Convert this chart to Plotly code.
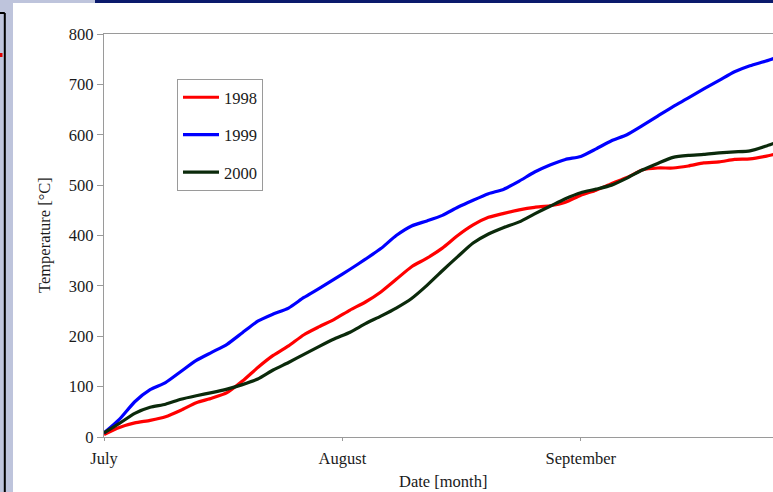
import plotly.graph_objects as go

# Days since July 1
days = [0, 2, 4, 6, 8, 10, 12, 14, 16, 18, 20, 22, 24, 26, 28, 30, 32, 34, 36, 38, 40, 42, 44,
        46, 48, 50, 52, 54, 56, 58, 60, 62, 64, 66, 68, 70, 72, 74, 76, 78, 80, 82, 84, 86, 88]

t1998 = [5, 19, 28, 33, 40, 53, 68, 77, 88, 111, 138, 162, 181, 203, 219, 234, 252, 268, 288, 313,
         338, 355, 375, 400, 421, 436, 444, 451, 456, 459, 466, 480, 490, 503, 515, 530, 534, 534,
         538, 544, 546, 551, 552, 557, 564]
t1999 = [8, 35, 70, 94, 108, 130, 152, 168, 184, 207, 230, 244, 256, 277, 295, 314, 333, 353, 374,
         400, 419, 429, 440, 456, 470, 483, 492, 508, 526, 540, 551, 557, 572, 588, 600, 618, 637,
         656, 673, 691, 708, 725, 737, 746, 756]
t2000 = [8, 27, 47, 59, 65, 75, 82, 88, 95, 104, 115, 133, 148, 164, 180, 195, 208, 225, 240, 256,
         275, 301, 330, 358, 385, 403, 416, 427, 443, 458, 473, 485, 492, 500, 514, 530, 543, 555,
         559, 561, 564, 566, 568, 577, 588]

series_names = ["1998", "1999", "2000"]
series_colors = ["#ff0000", "#0000ff", "#0b2a0b"]
month_ticks = [0, 31, 62]
month_labels = ["July", "August", "September"]

W, H = 773, 492
FONT = "Liberation Serif, Times New Roman, serif"
FS = 16.5

fig = go.Figure()
for name, vals, col in zip(series_names, [t1998, t1999, t2000], series_colors):
    fig.add_trace(go.Scatter(x=days, y=vals, mode="lines", name=name, legendgroup=name,
                             line=dict(color=col, width=3.2, shape="spline", smoothing=0.6)))

def px_x(p):
    return p / W

def px_y(p):
    return 1 - p / H

shapes = [
    dict(type="rect", xref="paper", yref="paper", x0=0, x1=px_x(13), y0=0, y1=1,
         fillcolor="#bec4dc", line_width=0, layer="below"),
    dict(type="rect", xref="paper", yref="paper", x0=0, x1=px_x(95), y0=px_y(3), y1=1,
         fillcolor="#bec4dc", line_width=0, layer="below"),
    dict(type="rect", xref="paper", yref="paper", x0=px_x(95), x1=1, y0=px_y(3), y1=1,
         fillcolor="#0b1a6c", line_width=0, layer="below"),
    dict(type="line", xref="paper", yref="paper", x0=px_x(4.8), x1=px_x(4.8), y0=0, y1=px_y(13),
         line=dict(color="#000000", width=2)),
    dict(type="line", xref="paper", yref="paper", x0=0, x1=px_x(4.8), y0=px_y(13), y1=px_y(13),
         line=dict(color="#000000", width=2)),
    dict(type="rect", xref="paper", yref="paper", x0=0, x1=px_x(2.5), y0=px_y(57), y1=px_y(53),
         fillcolor="#e00000", line_width=0),
]

fig.update_layout(
    autosize=True,
    margin=dict(l=0, r=0, t=0, b=0, autoexpand=False),
    paper_bgcolor="white", plot_bgcolor="white",
    font=dict(family=FONT, size=FS, color="#1a1a1a"),
    showlegend=True,
    legend=dict(x=px_x(177), y=px_y(79), xanchor="left", yanchor="top",
                bordercolor="#9a9a9a", borderwidth=1, bgcolor="white",
                font=dict(family=FONT, size=FS, color="#1a1a1a"),
                tracegroupgap=13, itemwidth=36),
    shapes=shapes,
    xaxis=dict(domain=[px_x(104), 1], range=[0, 87], tickvals=month_ticks, ticktext=month_labels,
               showgrid=False, zeroline=False, showline=True, linecolor="#9a9a9a", linewidth=1.3,
               mirror=True, ticks="outside", ticklen=3, tickcolor="#9a9a9a",
               ticklabelstandoff=3, tickfont=dict(family=FONT, size=FS)),
    yaxis=dict(domain=[px_y(437), px_y(34)], range=[0, 800], dtick=100,
               showgrid=False, zeroline=False, showline=True, linecolor="#9a9a9a", linewidth=1.3,
               ticks="outside", ticklen=6, tickcolor="#9a9a9a",
               tickfont=dict(family=FONT, size=FS)),
    annotations=[
        dict(text="Date [month]", xref="paper", yref="paper", x=px_x(443), y=px_y(481),
             showarrow=False, font=dict(family=FONT, size=FS), xanchor="center", yanchor="middle"),
        dict(text="Temperature [°C]", xref="paper", yref="paper", x=px_x(44), y=px_y(235),
             showarrow=False, textangle=-90, font=dict(family=FONT, size=FS),
             xanchor="center", yanchor="middle"),
    ],
)

fig.write_html("out.html",
               default_width=f"{W}px;position:absolute;left:0;top:0",
               default_height=f"{H}px")
